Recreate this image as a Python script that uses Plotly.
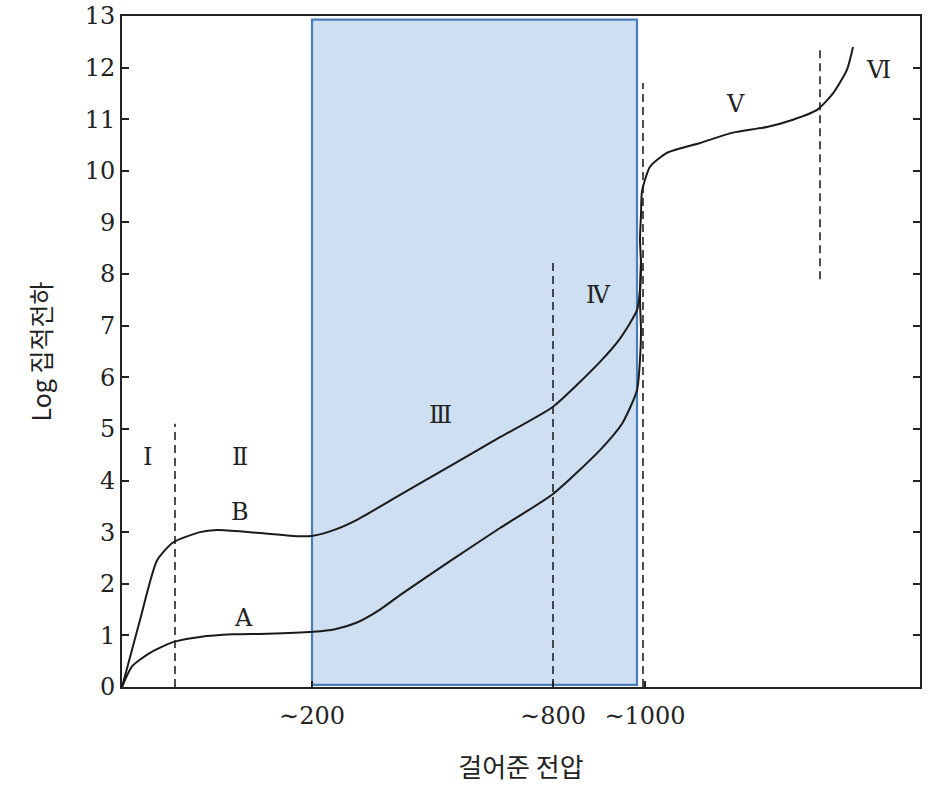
import plotly.graph_objects as go

# ---- data (x: position along the non-linear voltage axis, y: log charge) ----
curve_b_x = [0, 18, 35, 51, 78, 95, 128, 178, 191, 213, 235, 278, 328, 378, 431, 478, 498, 515,
             518, 519, 518, 519, 520, 528, 545, 578, 611, 645, 671, 695, 711, 725, 731]
curve_b_y = [0, 1.3, 2.45, 2.8, 3.0, 3.04, 3.0, 2.92, 2.93, 3.05, 3.24, 3.72, 4.28, 4.84, 5.43, 6.3, 6.75, 7.3,
             7.7, 8.2, 8.66, 9.15, 9.6, 10.08, 10.35, 10.54, 10.74, 10.85, 10.99, 11.18, 11.5, 11.96, 12.4]

curve_a_x = [0, 10, 28, 51, 78, 111, 145, 191, 213, 235, 258, 278, 328, 378, 431, 478, 500, 515,
             518, 519, 518, 519]
curve_a_y = [0, 0.4, 0.66, 0.87, 0.97, 1.02, 1.03, 1.07, 1.12, 1.25, 1.5, 1.78, 2.44, 3.08, 3.74, 4.59, 5.1, 5.75,
             6.34, 6.9, 7.5, 8.3]

boundary_x = [53, 431, 521, 698]
boundary_y0 = [0, 0, 0, 7.9]
boundary_y1 = [5.1, 8.3, 11.7, 12.4]

region_labels = ["I", "Ⅱ", "Ⅲ", "Ⅳ", "V", "Ⅵ", "B", "A"]
region_x = [25, 118, 318, 476, 613, 756, 118, 121]
region_y = [4.46, 4.46, 5.27, 7.6, 11.3, 11.96, 3.39, 1.34]

tick_pos = [190, 431, 523]
tick_text = ["∼200", "∼800", "∼1000"]
y_ticks = list(range(0, 14))

highlight_x = [190, 515]
highlight_y = [0.04, 12.93]

serif = "DejaVu Serif, Liberation Serif, serif"
kr = "Noto Sans CJK KR, sans-serif"

fig = go.Figure()

for bx, y0, y1 in zip(boundary_x, boundary_y0, boundary_y1):
    fig.add_trace(go.Scatter(x=[bx, bx], y=[y0, y1], mode="lines",
                             line=dict(color="#222222", width=1.6, dash="8px,5px"),
                             showlegend=False, hoverinfo="skip"))

fig.add_trace(go.Scatter(x=curve_a_x, y=curve_a_y, mode="lines",
                         line=dict(color="#1a1a1a", width=2, shape="spline", smoothing=0.6),
                         showlegend=False, name="A"))
fig.add_trace(go.Scatter(x=curve_b_x, y=curve_b_y, mode="lines",
                         line=dict(color="#1a1a1a", width=2, shape="spline", smoothing=0.6),
                         showlegend=False, name="B"))

fig.add_shape(type="rect", xref="x", yref="y",
              x0=highlight_x[0], x1=highlight_x[1], y0=highlight_y[0], y1=highlight_y[1],
              fillcolor="rgba(190,212,236,0.75)", line=dict(color="#4a7ebb", width=2.2),
              layer="below")

for t, x, y in zip(region_labels, region_x, region_y):
    fig.add_annotation(x=x, y=y, text=t, showarrow=False,
                       font=dict(family=serif, size=24, color="#222222"))

fig.update_layout(
    width=933, height=786,
    margin=dict(l=122, r=13, t=16, b=99),
    paper_bgcolor="white", plot_bgcolor="white",
    font=dict(family=serif, size=22, color="#222222"),
    showlegend=False,
)
fig.update_xaxes(range=[0, 798], tickmode="array", tickvals=tick_pos, ticktext=tick_text,
                 ticks="inside", ticklen=6, tickwidth=1.5, tickcolor="#222222",
                 showline=True, linecolor="#222222", linewidth=2, mirror=True,
                 showgrid=False, zeroline=False, automargin=False,
                 ticklabelstandoff=6,
                 tickfont=dict(family=serif, size=24),
                 title=dict(text="걸어준 전압", font=dict(family=kr, size=26), standoff=30))
fig.update_yaxes(range=[0, 13], tickmode="array", tickvals=y_ticks,
                 ticks="inside", ticklen=7, tickwidth=1.5, tickcolor="#222222",
                 showline=True, linecolor="#222222", linewidth=2, mirror="ticks",
                 showgrid=False, zeroline=False, automargin=False,
                 tickfont=dict(family=serif, size=24),
                 title=dict(text="Log 집적전하", font=dict(family=kr, size=25), standoff=26))

fig.write_html("out.html")
